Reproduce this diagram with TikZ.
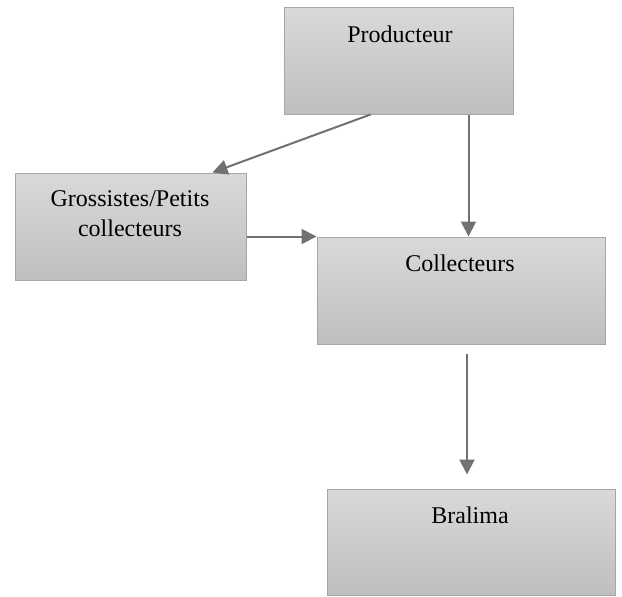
\documentclass[tikz,border=0pt]{standalone}
\usepackage{fontspec}
\setmainfont{Liberation Serif}
\usetikzlibrary{arrows.meta,calc,positioning}
\definecolor{boxtop}{RGB}{217,217,217}
\definecolor{boxbottom}{RGB}{191,191,191}
\definecolor{boxline}{RGB}{166,166,166}
\definecolor{arrowgrey}{RGB}{115,112,112}

\begin{document}
\begin{tikzpicture}[x=0.5pt, y=-0.5pt,
  acteur/.style={draw=boxline, line width=0.5pt, top color=boxtop, bottom color=boxbottom, minimum height=53.5pt, inner sep=0pt},
  etiquette/.style={anchor=base, inner sep=0pt, align=center, font=\fontsize{12}{15}\selectfont},
  fleche/.style={draw=arrowgrey, line width=1pt, -{Triangle[length=7.5pt, width=7.5pt]}}]
\useasboundingbox (0,0) rectangle (622,596);
\node[acteur, minimum width=114.5pt] (prod) at (398.5,60.5) {};
\node[acteur, minimum width=115.5pt] (gros) at (130.5,226.5) {};
\node[acteur, minimum width=144pt] (coll) at (461,290.5) {};
\node[acteur, minimum width=144pt, minimum height=53pt] (bral) at (471,542) {};
\node[etiquette] (prod-t) at (400,42) {Producteur};
\node[etiquette] (gros-t) at (130,236) {Grossistes/Petits\\collecteurs};
\node[etiquette] (coll-t) at (460,271) {Collecteurs};
\node[etiquette] (bral-t) at (470,523) {Bralima};
\draw[fleche] ($(prod.south)+(-28,0)$) -- ($(gros.north)+(82,0)$);
\draw[fleche] ($(prod.south)+(70,0)$) -- ($(coll.north)+(7.5,0)$);
\draw[fleche] (gros.east |- coll.north) -- (coll.north west);
\draw[fleche, shorten <=4.5pt, shorten >=7pt] ($(coll.south)+(6,0)$) -- ($(bral.north)+(-4,0)$);
\end{tikzpicture}
\end{document}
